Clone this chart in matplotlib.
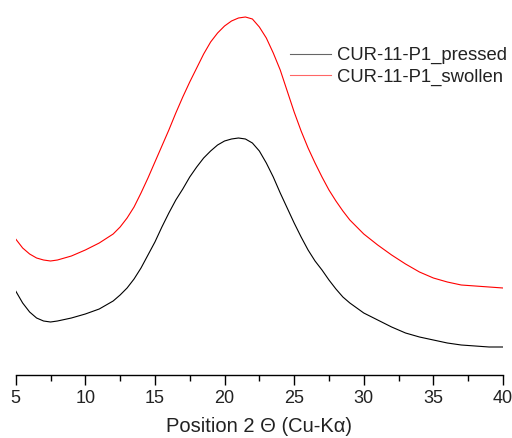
import numpy as np
import matplotlib.pyplot as plt

plt.rcParams['font.family'] = ['Liberation Sans', 'DejaVu Sans']

# 2-theta positions (deg) and intensities (a.u.)
two_theta = [5, 5.5, 6, 6.5, 7, 7.5, 8, 9, 10, 11, 12, 12.5, 13, 13.5, 14, 14.5, 15, 15.5,
             16, 16.5, 17, 17.5, 18, 18.5, 19, 19.5, 20, 20.5, 21, 21.5, 22, 22.5, 23, 23.5,
             24, 24.5, 25, 25.5, 26, 26.5, 27, 27.5, 28, 28.5, 29, 29.5, 30, 31, 32, 33,
             34, 35, 36, 37, 38, 39, 40]
pressed = [84, 72, 63, 57, 54, 53, 54, 57, 61, 66, 74, 80, 87, 96, 107, 120, 133, 148,
           162, 175, 186, 198, 208, 217, 224, 230, 234, 236, 237, 236, 232, 224, 212, 198,
           182, 167, 152, 138, 125, 114, 105, 95, 86, 78, 72, 67, 62, 55, 48, 42,
           38, 35, 32, 30, 29, 28, 28]
swollen = [136, 127, 121, 117, 115, 114, 115, 119, 125, 132, 141, 148, 157, 168, 182, 197, 213, 229,
           245, 262, 278, 293, 307, 321, 333, 342, 349, 354, 357, 358, 356, 348, 337, 322,
           305, 284, 263, 244, 227, 212, 198, 185, 174, 164, 155, 148, 141, 130, 120, 111,
           103, 97, 93, 90, 89, 88, 87]
labels = ['CUR-11-P1_pressed', 'CUR-11-P1_swollen']

fig = plt.figure(figsize=(5.12, 4.38), dpi=100)
ax = fig.add_axes([15.7 / 512, 1 - 375 / 438, (503 - 15.7) / 512, 365 / 438])

ax.plot(two_theta, pressed, color='black', lw=0.8, label=labels[0])
ax.plot(two_theta, swollen, color='#ff0000', lw=0.8, label=labels[1])

ax.set_xlim(5, 40)
ax.set_ylim(0, 365)
for s in ['left', 'right', 'top']:
    ax.spines[s].set_visible(False)
ax.spines['bottom'].set_linewidth(1.0)
ax.set_yticks([])
ax.set_xticks(np.arange(5, 41, 5))
ax.set_xticks(np.arange(7.5, 40, 5), minor=True)
ax.tick_params(axis='x', which='major', direction='out', length=7, width=1,
               labelsize=13, pad=4, colors='black', labelcolor='#222222')
ax.tick_params(axis='x', which='minor', direction='out', length=4, width=1)
ax.set_xlabel('Position 2 \u0398 (Cu-K\u03b1)', fontsize=14.5, color='#222222', labelpad=7)

leg = ax.legend(loc='upper left', bbox_to_anchor=(274 / 487, 1 - 37 / 365),
                frameon=False, fontsize=13.3, handlelength=2.25, handletextpad=0.3,
                labelspacing=0.25, borderaxespad=0, borderpad=0)
for t in leg.get_texts():
    t.set_color('#222222')
for h in leg.get_lines():
    h.set_alpha(0.6)

plt.savefig('out.png', dpi=100)
